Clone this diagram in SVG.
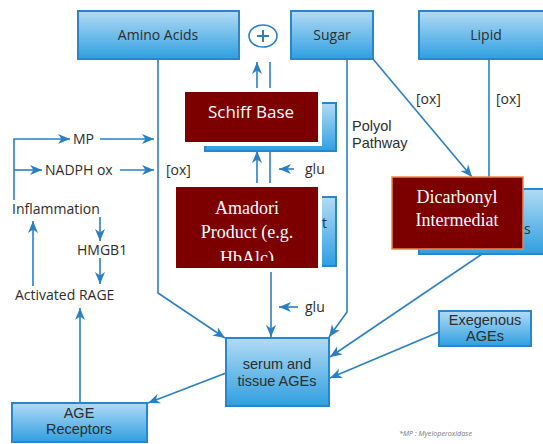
<svg xmlns="http://www.w3.org/2000/svg" width="543" height="444" viewBox="0 0 543 444">
<defs>
<linearGradient id="bg" x1="0" y1="0" x2="0" y2="1">
<stop offset="0" stop-color="#b2dbf4"/>
<stop offset="1" stop-color="#2f9fe0"/>
</linearGradient>
<marker id="ah" markerUnits="userSpaceOnUse" markerWidth="13" markerHeight="11" refX="12" refY="5.5" orient="auto">
<path d="M0,0.5 L12,5.5 L0,10.5 L3.5,5.5 Z" fill="#2a7fc2"/>
</marker>
<clipPath id="amclip"><rect x="176" y="187" width="142" height="74"/></clipPath>
</defs>
<style>
.box{fill:url(#bg);stroke:#2a86cc;stroke-width:2}
.red{fill:#7c0000}
.halo{fill:#fff}
.t{font-family:"Open Sans","Liberation Sans",sans-serif;font-size:14px;fill:#2d2d2d}
.m{font-family:"Liberation Sans",Arial,sans-serif;font-size:14.5px;fill:#2d2d2d}
.c{text-anchor:middle}
.rs{font-family:"Open Sans","Liberation Sans",sans-serif;font-size:17px;fill:#fff;text-anchor:middle}
.rt{font-family:"Liberation Serif","Times New Roman",serif;font-size:18px;fill:#fff;text-anchor:middle}
.ln{fill:none;stroke:#2a7fc2;stroke-width:1.6}
.ar{marker-end:url(#ah)}
</style>
<rect width="543" height="444" fill="#fff"/>

<g id="connectors">
<polyline class="ln ar" points="158,59 158,293 225,338"/>
<polyline class="ln ar" points="347,59 347,312 329,337"/>
<line class="ln ar" x1="373" y1="59" x2="472" y2="177"/>
<line class="ln" x1="489" y1="59" x2="489" y2="180"/>
<line class="ln ar" x1="257" y1="88" x2="257" y2="62"/>
<line class="ln" x1="270" y1="88" x2="270" y2="62"/>
<line class="ln ar" x1="257" y1="186" x2="257" y2="151"/>
<line class="ln" x1="270" y1="186" x2="270" y2="151"/>
<line class="ln ar" x1="294" y1="169" x2="279" y2="169"/>
<line class="ln ar" x1="271" y1="272" x2="271" y2="337"/>
<line class="ln ar" x1="298" y1="307" x2="279" y2="307"/>
<line class="ln ar" x1="482" y1="254" x2="330" y2="357"/>
<line class="ln ar" x1="439" y1="332" x2="330" y2="378"/>
<line class="ln ar" x1="226" y1="373" x2="148" y2="403"/>
<line class="ln ar" x1="80" y1="403" x2="80" y2="308"/>
<line class="ln ar" x1="33" y1="286" x2="33" y2="221"/>
<line class="ln ar" x1="100" y1="217" x2="100" y2="241"/>
<line class="ln ar" x1="100" y1="258" x2="100" y2="284"/>
<polyline class="ln ar" points="14,200 14,139 70,139"/>
<line class="ln ar" x1="14" y1="170" x2="42" y2="170"/>
<line class="ln ar" x1="100" y1="139" x2="154" y2="139"/>
<line class="ln ar" x1="120" y1="170" x2="154" y2="170"/>
</g>

<g id="amino-acids">
<rect class="box" x="78" y="11" width="161" height="48"/>
<text class="t c" x="158" y="40">Amino Acids</text>
</g>
<g id="plus">
<ellipse cx="263" cy="36" rx="14" ry="11" fill="#fff" stroke="#2a7fc2" stroke-width="1.6"/>
<path d="M257,36 H269 M263,30 V42" stroke="#2a7fc2" stroke-width="2" fill="none"/>
</g>
<g id="sugar">
<rect class="box" x="291" y="11" width="82" height="48"/>
<text class="t c" x="332" y="40">Sugar</text>
</g>
<g id="lipid">
<rect class="box" x="419" y="11" width="130" height="48"/>
<text class="t c" x="486" y="40">Lipid</text>
</g>

<g id="labels">
<text class="t" x="416" y="104">[ox]</text>
<text class="t" x="496" y="104">[ox]</text>
<text class="m" x="352" y="131">Polyol</text>
<text class="m" x="352" y="148">Pathway</text>
<text class="t" x="305" y="174">glu</text>
<text class="t" x="305" y="312">glu</text>
<text class="t" x="166" y="175">[ox]</text>
</g>

<g id="schiff-base">
<rect class="box" x="205" y="103" width="131" height="48"/>
<rect class="halo" x="181" y="88" width="141" height="58"/>
<rect class="red" x="185" y="92" width="133" height="50"/>
<text class="rs" x="251" y="118">Schiff Base</text>
</g>

<g id="amadori">
<rect class="box" x="215" y="197" width="121" height="69"/>
<text class="t" x="322" y="228">t</text>
<rect class="halo" x="172" y="183" width="150" height="89"/>
<rect class="red" x="176" y="187" width="142" height="81"/>
<g clip-path="url(#amclip)">
<text class="rt" x="247" y="214">Amadori</text>
<text class="rt" x="247" y="238">Product (e.g.</text>
<text class="rt" x="247" y="264">HbAlc)</text>
</g>
</g>

<g id="dicarbonyl">
<rect class="box" x="419" y="189" width="130" height="65"/>
<text class="t" x="524" y="234">s</text>
<rect x="392" y="177" width="131" height="72" fill="#7c0000" stroke="#e8894a" stroke-width="1.5"/>
<text class="rt" x="457" y="203">Dicarbonyl</text>
<text class="rt" x="457" y="226">Intermediat</text>
</g>

<g id="serum-ages">
<rect class="box" x="226" y="338" width="103" height="68"/>
<text class="m c" x="277" y="369">serum and</text>
<text class="m c" x="277" y="386">tissue AGEs</text>
</g>

<g id="exegenous-ages">
<rect class="box" x="439" y="311" width="92" height="35"/>
<text class="m c" x="485" y="325">Exegenous</text>
<text class="m c" x="485" y="341">AGEs</text>
</g>

<g id="age-receptors">
<rect class="box" x="12" y="403" width="135" height="39"/>
<text class="m c" x="79" y="418">AGE</text>
<text class="m c" x="79" y="434">Receptors</text>
</g>

<g id="inflammation"><text class="t" x="12" y="214">Inflammation</text></g>
<g id="hmgb1"><text class="t" x="77" y="255">HMGB1</text></g>
<g id="activated-rage"><text class="t" x="15" y="300">Activated RAGE</text></g>
<g id="mp"><text class="t" x="73" y="144">MP</text></g>
<g id="nadph"><text class="t" x="45" y="175">NADPH ox</text></g>

<text x="399" y="436" font-family="Open Sans, Liberation Sans, sans-serif" font-size="8" font-style="italic" fill="#777" textLength="73" lengthAdjust="spacingAndGlyphs">*MP : Myeloperoxidase</text>
</svg>
